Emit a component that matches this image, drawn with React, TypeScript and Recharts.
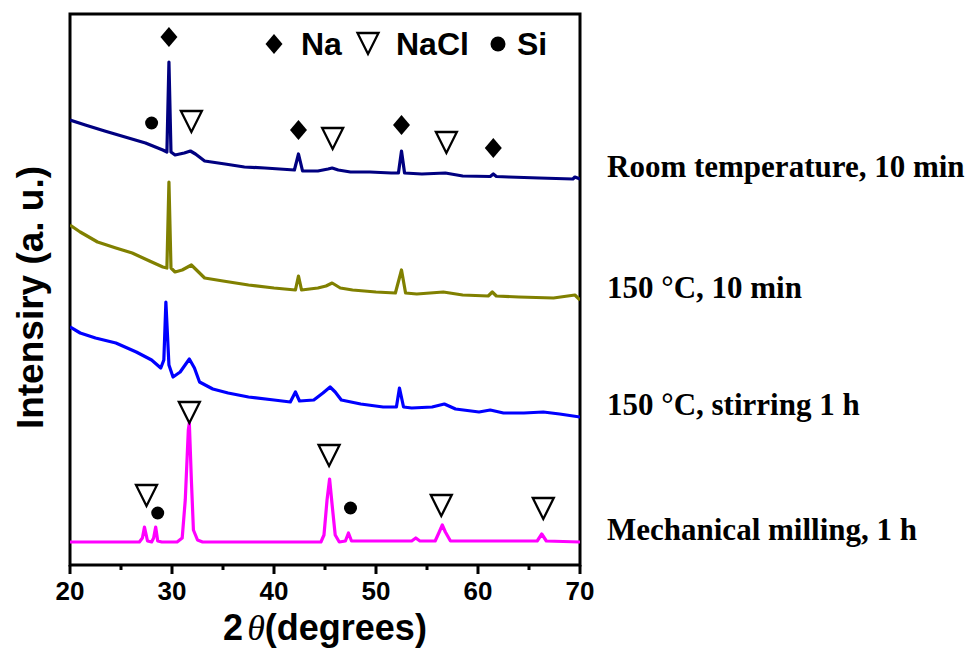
import { LineChart, Line, XAxis, YAxis, ReferenceArea, ReferenceDot } from "recharts";

// 2θ positions and stacked intensities (a.u.)
const roomX = [20, 21.5, 23.4, 25.4, 27.4, 29.1, 29.5, 29.7, 29.9, 30.3, 31.2, 31.8, 32.3, 33.2, 35.2, 37.1, 39.1, 42.0, 42.4, 42.8, 44.3, 45.3, 45.7, 46.3, 47.5, 49.4, 51.5, 52.2, 52.5, 52.8, 54.5, 56.8, 58.5, 61.2, 61.5, 61.8, 63, 66, 69.3, 69.5, 70];
const roomY = [445, 440, 434, 428, 422, 415, 413, 503, 413, 410, 412, 414, 411, 404, 401, 398, 397, 395, 411, 394, 394, 396, 397, 395, 393, 393, 392, 392, 414, 392, 391, 392, 389, 388.5, 391, 388.5, 388, 387, 386, 388, 386];

const heat10X = [20, 21, 22.7, 24.5, 26.1, 27.8, 29.1, 29.5, 29.7, 29.9, 30.3, 31.0, 31.9, 32.6, 33.2, 35, 37.5, 40, 42.1, 42.4, 42.7, 44.3, 45.1, 45.7, 46.5, 47.7, 50, 51.9, 52.5, 52.9, 54, 56.6, 58.5, 61.0, 61.4, 61.8, 64, 67.4, 69.5, 70];
const heat10Y = [340, 333, 323, 317, 312, 304, 298, 297, 383, 297, 293, 295, 300, 293, 287, 284, 280, 277, 275, 289, 275, 277, 279, 282, 277, 275, 273, 272, 295, 272, 271, 273, 270, 269, 273, 269, 268, 267, 270, 265];

const stirX = [20, 21, 22.5, 24.5, 26.5, 28, 28.9, 29.2, 29.4, 29.7, 30.1, 30.8, 31.7, 32.2, 32.7, 34, 35.5, 37.5, 40, 41.6, 42.1, 42.5, 43.9, 44.8, 45.5, 46.0, 46.6, 48.5, 50.7, 52.0, 52.3, 52.7, 53.5, 55.5, 56.7, 57.8, 60.1, 61.2, 62.5, 64.5, 66.4, 68, 70];
const stirY = [238, 232, 227, 222, 213, 205, 197, 205, 263, 200, 188, 193, 206, 197, 183, 176, 172, 168, 165, 163, 173, 164, 165, 172, 178, 173, 165, 161, 158, 158, 177, 158, 157, 158, 161, 156, 153, 155, 152, 152, 153, 151, 148];

const millX = [20, 26.8, 27.1, 27.3, 27.6, 28.0, 28.2, 28.4, 28.6, 29.0, 30.5, 31.0, 31.3, 31.6, 31.7, 31.9, 32.1, 32.5, 33, 44.6, 44.9, 45.2, 45.45, 45.7, 46.0, 46.4, 47.0, 47.3, 47.6, 53.5, 53.9, 54.3, 55.8, 56.2, 56.5, 56.8, 57.3, 65.8, 66.25, 66.7, 70];
const millY = [23, 23, 27, 38, 24, 23, 27, 38, 24, 23, 23, 27, 65, 135, 142, 85, 35, 25, 23, 23, 30, 65, 86, 60, 30, 23, 24, 32, 24, 24, 27, 24, 24, 33, 40, 33, 24, 24, 31, 24, 23];

const sampleNames = ["Room temperature, 10 min", "150 °C, 10 min", "150 °C, stirring 1 h", "Mechanical milling, 1 h"];
const sampleColors = ["#000080", "#808000", "#0000ff", "#ff00ff"];

const xTicks = [20, 25, 30, 35, 40, 45, 50, 55, 60, 65, 70];

// phase markers (2θ, height above the patterns)
const naMarks = [[29.7, 528], [42.4, 435], [52.5, 440], [61.5, 417]];
const naclMarks = [[31.9, 444], [45.75, 427], [56.9, 423], [27.5, 70], [31.7, 153], [45.4, 110], [56.4, 60], [66.4, 57]];
const siMarks = [[28.0, 442], [28.6, 52], [47.5, 57]];

const toPoints = (xs: number[], ys: number[]) => xs.map((x, i) => ({ x, y: ys[i] }));
const series = [toPoints(roomX, roomY), toPoints(heat10X, heat10Y), toPoints(stirX, stirY), toPoints(millX, millY)];

const SANS = "'Liberation Sans', Arial, sans-serif";
const SERIF = "'Liberation Serif', 'Times New Roman', serif";

const Diamond = (props: any) => {
  const { cx, cy } = props;
  return <path d={`M${cx},${cy - 10} L${cx + 8.5},${cy} L${cx},${cy + 10} L${cx - 8.5},${cy} Z`} fill="#000" />;
};

const Triangle = (props: any) => {
  const { cx, cy } = props;
  return (
    <path
      d={`M${cx - 10.5},${cy - 10} L${cx + 10.5},${cy - 10} L${cx},${cy + 11} Z`}
      fill="#fff"
      stroke="#000"
      strokeWidth={2.3}
      strokeLinejoin="miter"
    />
  );
};

const Dot = (props: any) => <circle cx={props.cx} cy={props.cy} r={6.5} fill="#000" />;

// sample name written to the right of where its pattern ends
const SampleLabel = (props: any) => {
  const { cx, cy, name } = props;
  return (
    <text x={cx + 27} y={cy - 2} fontFamily={SERIF} fontWeight="bold" fontSize={31} fill="#000">
      {name}
    </text>
  );
};

const XTick = (props: any) => {
  const { x, y, payload } = props;
  const major = payload.value % 10 === 0;
  return (
    <g>
      <line x1={x} y1={y} x2={x} y2={y + (major ? 9 : 5)} stroke="#000" strokeWidth={3} />
      {major && (
        <text x={x} y={y + 35} textAnchor="middle" fontFamily={SANS} fontWeight="bold" fontSize={26} fill="#000">
          {payload.value}
        </text>
      )}
    </g>
  );
};

const XTitle = (props: any) => {
  const { viewBox } = props;
  const cx = viewBox.x + viewBox.width / 2;
  return (
    <text x={cx} y={viewBox.y + 75} textAnchor="middle" fontFamily={SANS} fontWeight="bold" fontSize={36} fill="#000">
      2<tspan fontFamily={SERIF} fontStyle="italic" fontWeight="normal" dx={4}>θ</tspan>
      <tspan>(degrees)</tspan>
    </text>
  );
};

const YTitle = (props: any) => {
  const { viewBox } = props;
  const cx = viewBox.x + 30;
  const cy = viewBox.y + viewBox.height / 2 + 8;
  return (
    <text
      x={cx}
      y={cy}
      transform={`rotate(-90, ${cx}, ${cy})`}
      textAnchor="middle"
      dominantBaseline="central"
      fontFamily={SANS}
      fontWeight="bold"
      fontSize={37}
      fill="#000"
    >
      Intensiry (a. u.)
    </text>
  );
};

const PhaseLegend = () => (
  <svg width={320} height={70} style={{ position: "absolute", left: 250, top: 10 }}>
    <Diamond cx={24} cy={34} />
    <text x={51} y={45} fontFamily={SANS} fontWeight="bold" fontSize={32}>Na</text>
    <Triangle cx={118} cy={33} />
    <text x={146} y={45} fontFamily={SANS} fontWeight="bold" fontSize={32}>NaCl</text>
    <circle cx={248} cy={34} r={7.5} fill="#000" />
    <text x={267} y={45} fontFamily={SANS} fontWeight="bold" fontSize={32}>Si</text>
  </svg>
);

export default function App() {
  return (
    <div style={{ position: "absolute", left: 0, top: 0, width: 977, height: 649, background: "#fff" }}>
      <LineChart width={977} height={649} margin={{ top: 14, right: 397, bottom: 0, left: 0 }}>
        <XAxis
          dataKey="x"
          type="number"
          domain={[20, 70]}
          ticks={xTicks}
          interval={0}
          allowDataOverflow
          axisLine={false}
          tickLine={false}
          tickSize={0}
          tickMargin={0}
          height={84}
          tick={<XTick />}
          label={<XTitle />}
        />
        <YAxis
          yAxisId="l"
          type="number"
          domain={[0, 551]}
          allowDataOverflow
          width={70}
          tick={false}
          tickLine={false}
          axisLine={false}
          label={<YTitle />}
        />
        {series.map((pts, i) => (
          <Line
            key={sampleNames[i]}
            yAxisId="l"
            data={pts}
            dataKey="y"
            type="linear"
            stroke={sampleColors[i]}
            strokeWidth={3.2}
            strokeLinejoin="round"
            dot={false}
            activeDot={false}
            isAnimationActive={false}
          />
        ))}
        <ReferenceArea yAxisId="l" x1={20} x2={70} y1={0} y2={551} fill="none" stroke="#000" strokeWidth={3} />
        {naMarks.map(([x, y], i) => (
          <ReferenceDot key={"na" + i} yAxisId="l" x={x} y={y} shape={<Diamond />} />
        ))}
        {naclMarks.map(([x, y], i) => (
          <ReferenceDot key={"nacl" + i} yAxisId="l" x={x} y={y} shape={<Triangle />} />
        ))}
        {siMarks.map(([x, y], i) => (
          <ReferenceDot key={"si" + i} yAxisId="l" x={x} y={y} shape={<Dot />} />
        ))}
        {series.map((pts, i) => {
          const last = pts[pts.length - 1];
          return (
            <ReferenceDot
              key={"lab" + i}
              yAxisId="l"
              x={last.x}
              y={last.y}
              ifOverflow="visible"
              shape={<SampleLabel name={sampleNames[i]} />}
            />
          );
        })}
      </LineChart>
      <PhaseLegend />
    </div>
  );
}
